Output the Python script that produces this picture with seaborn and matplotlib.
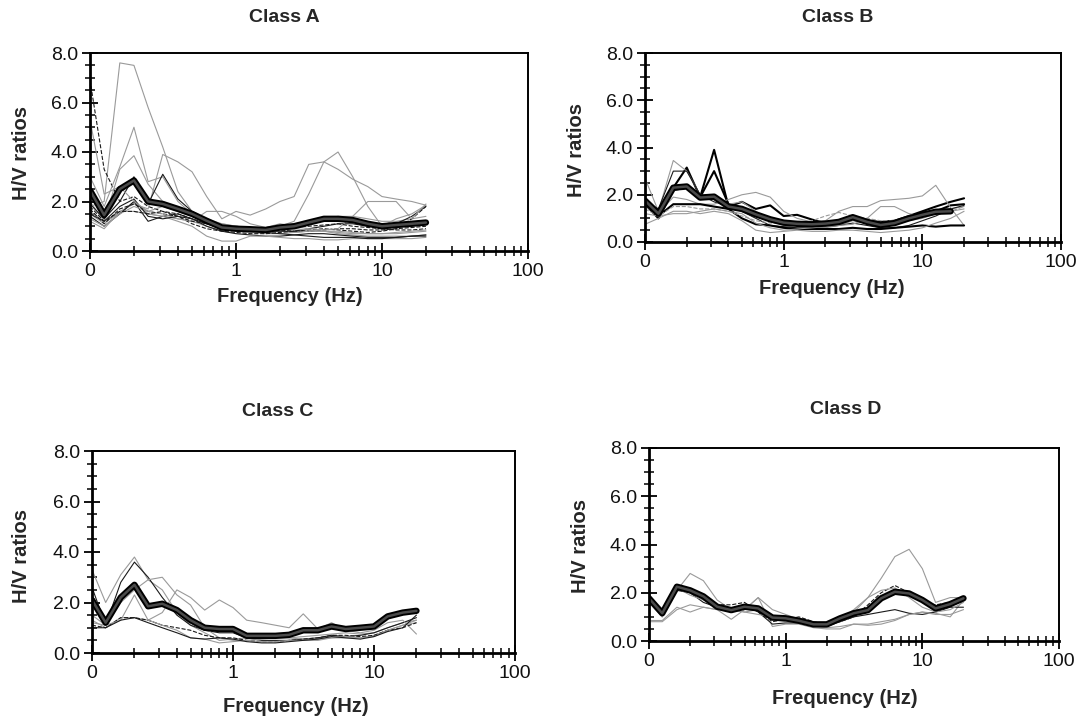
import numpy as np
import matplotlib
matplotlib.use("Agg")
import matplotlib.pyplot as plt
import matplotlib.ticker as mticker
import seaborn as sns

# ------------------------------------------
# data
# ------------------------------------------
freq = [0.1, 0.125, 0.16, 0.2, 0.25, 0.315, 0.4, 0.5, 0.63, 0.8, 1.0, 1.25,
        1.6, 2.0, 2.5, 3.15, 4.0, 5.0, 6.3, 8.0, 10.0, 12.5, 16.0, 20.0]

x_ticks = [0.1, 1, 10, 100]
x_tick_labels = ["0", "1", "10", "100"]
y_ticks = [0, 2, 4, 6, 8]

class_names = ["Class A", "Class B", "Class C", "Class D"]

mean_a = [2.45, 1.45, 2.5, 2.85, 2.0, 1.9, 1.7, 1.5, 1.22, 0.95, 0.9, 0.88,
          0.85, 0.95, 1.0, 1.15, 1.3, 1.3, 1.25, 1.1, 1.0, 1.05, 1.1, 1.15]
runs_a = [
    [1.8, 2.0, 7.6, 7.5, 5.8, 4.2, 2.4, 1.6, 1.3, 1.0, 0.9, 0.85, 0.8, 0.8, 0.75, 0.8, 0.8, 0.75, 0.7, 0.7, 0.7, 0.7, 0.75, 0.8],
    [6.9, 3.3, 2.0, 2.2, 1.8, 1.6, 1.5, 1.3, 1.1, 1.0, 1.0, 0.95, 0.9, 0.85, 0.8, 0.8, 0.85, 0.9, 0.9, 0.85, 0.85, 0.9, 0.95, 1.0],
    [3.0, 1.8, 3.4, 5.0, 2.8, 3.0, 2.0, 1.5, 1.3, 1.1, 1.0, 0.9, 0.9, 1.0, 1.1, 1.2, 1.3, 1.4, 1.4, 1.3, 1.2, 1.2, 1.3, 1.4],
    [2.0, 1.2, 3.3, 3.85, 2.7, 2.0, 1.7, 1.4, 1.2, 1.0, 0.8, 0.75, 0.7, 0.7, 0.75, 0.8, 0.8, 0.7, 0.65, 0.6, 0.6, 0.6, 0.6, 0.65],
    [1.5, 1.1, 1.6, 1.9, 1.7, 3.9, 3.6, 3.2, 2.2, 1.3, 1.6, 1.45, 1.7, 2.0, 2.2, 3.5, 3.6, 3.3, 2.9, 2.6, 2.2, 2.1, 2.0, 1.85],
    [1.6, 1.2, 1.5, 2.0, 1.5, 1.4, 1.3, 1.2, 1.0, 0.8, 0.9, 0.85, 0.9, 1.0, 1.2, 2.3, 3.6, 4.0, 3.0, 1.8, 1.0, 1.3, 1.5, 1.85],
    [1.9, 1.3, 2.0, 3.0, 1.9, 3.1, 2.1, 1.6, 1.3, 1.0, 0.9, 0.85, 0.8, 0.8, 0.8, 0.9, 1.0, 1.1, 1.1, 1.0, 0.95, 1.1, 1.4, 1.8],
    [1.4, 1.0, 1.5, 2.0, 1.2, 1.4, 1.5, 1.3, 1.0, 0.8, 0.7, 0.65, 0.6, 0.6, 0.65, 0.7, 0.7, 0.65, 0.6, 0.55, 0.55, 0.55, 0.6, 0.6],
    [1.7, 1.1, 1.7, 1.9, 1.6, 1.5, 1.4, 1.1, 0.9, 0.8, 0.75, 0.7, 0.7, 0.75, 0.8, 0.85, 0.9, 0.85, 0.8, 0.75, 0.8, 0.9, 1.3, 1.8],
    [1.2, 0.9, 1.6, 1.6, 1.5, 1.4, 1.2, 1.0, 0.6, 0.4, 0.4, 0.6, 0.6, 0.55, 0.5, 0.5, 0.45, 0.45, 0.5, 0.5, 0.5, 0.5, 0.5, 0.55],
    [1.3, 1.0, 1.5, 1.8, 1.6, 1.5, 1.3, 1.2, 1.6, 1.6, 1.4, 1.1, 0.95, 1.1, 1.0, 0.9, 0.85, 0.9, 1.4, 2.0, 2.0, 2.0, 1.3, 1.9],
    [1.5, 1.2, 1.8, 2.1, 1.4, 1.3, 1.4, 1.3, 1.1, 0.9, 0.85, 0.8, 0.75, 0.7, 0.65, 0.6, 0.55, 0.55, 0.55, 0.5, 0.5, 0.55, 0.6, 0.65],
    [1.8, 1.2, 1.6, 1.6, 1.5, 1.6, 1.4, 1.2, 1.1, 1.0, 0.9, 0.9, 0.95, 1.0, 1.0, 1.0, 1.05, 1.1, 1.0, 0.95, 0.9, 0.85, 0.85, 0.9],
    [5.3, 2.3, 2.6, 2.0, 1.6, 1.8, 1.6, 1.4, 1.2, 1.1, 1.0, 0.95, 0.9, 0.9, 0.9, 0.85, 0.8, 0.8, 0.75, 0.7, 0.7, 0.75, 0.8, 0.85],
]
styles_a = ["g-", "k--", "g-", "g-", "g-", "g-", "k-", "k-", "k--", "g-", "g-", "k-", "k--", "g-"]

mean_b = [1.75, 1.2, 2.3, 2.35, 1.88, 1.92, 1.5, 1.4, 1.17, 0.96, 0.82, 0.77,
          0.75, 0.78, 0.85, 1.05, 0.85, 0.72, 0.8, 1.0, 1.15, 1.28, 1.3]
runs_b = [
    [1.8, 1.3, 2.3, 3.15, 1.9, 3.9, 1.5, 1.7, 1.4, 1.55, 1.1, 1.15, 0.95, 0.8, 0.85, 1.0, 0.9, 0.85, 0.9, 1.1, 1.3, 1.5, 1.7, 1.85],
    [1.6, 1.0, 2.2, 2.3, 1.9, 3.0, 1.6, 1.4, 1.2, 1.0, 0.8, 0.75, 0.7, 0.7, 0.75, 0.95, 0.8, 0.7, 0.75, 0.95, 1.1, 1.3, 1.55, 1.6],
    [2.7, 1.3, 3.45, 3.0, 2.0, 1.8, 1.6, 1.7, 1.3, 0.9, 0.7, 0.6, 0.55, 0.6, 0.7, 0.9, 0.8, 0.75, 0.8, 0.9, 1.0, 1.2, 1.4, 1.5],
    [1.7, 1.4, 3.0, 3.0, 2.0, 1.7, 1.5, 1.3, 1.0, 0.7, 0.65, 0.6, 0.6, 0.65, 0.7, 0.8, 0.7, 0.6, 0.6, 0.7, 0.9, 1.1, 1.4, 1.55],
    [1.5, 1.2, 1.9, 1.8, 1.6, 1.6, 1.8, 2.0, 2.1, 1.9, 1.3, 1.0, 0.85, 0.9, 1.3, 1.5, 1.5, 1.75, 1.8, 1.85, 1.95, 2.4, 1.45, 0.7],
    [1.6, 1.1, 1.6, 1.6, 1.6, 1.5, 1.4, 1.0, 0.75, 0.7, 0.6, 0.55, 0.55, 0.55, 0.55, 0.6, 0.55, 0.55, 0.6, 0.65, 0.7, 0.65, 0.7, 0.7],
    [0.75, 1.0, 1.3, 1.3, 1.2, 1.3, 1.2, 0.9, 0.5, 0.4, 0.45, 0.5, 0.45, 0.45, 0.5, 0.5, 0.45, 0.4, 0.45, 0.5, 0.6, 0.8, 1.0, 1.3],
    [1.4, 1.1, 1.5, 1.5, 1.4, 1.4, 1.3, 1.1, 0.9, 0.8, 0.8, 0.8, 0.9, 1.1, 1.25, 1.1, 1.0, 0.9, 0.9, 1.0, 1.1, 1.2, 1.3, 1.5],
    [1.2, 1.1, 1.2, 1.2, 1.3, 1.4, 1.3, 1.2, 0.8, 0.6, 0.5, 0.55, 0.6, 0.65, 0.7, 0.75, 1.0, 1.5, 1.5, 1.2, 1.1, 1.2, 1.3, 1.4],
]
styles_b = ["K-", "K-", "g-", "k-", "g-", "K-", "g-", "g--", "g-"]

mean_c = [2.1, 1.2, 2.2, 2.7, 1.85, 1.95, 1.7, 1.3, 1.0, 0.95, 0.95, 0.68,
          0.68, 0.68, 0.72, 0.9, 0.9, 1.05, 0.95, 1.0, 1.05, 1.45, 1.6, 1.67]
runs_c = [
    [3.3, 2.0, 3.1, 3.8, 2.9, 2.5, 1.6, 1.1, 0.8, 0.5, 0.55, 0.6, 0.6, 0.6, 0.6, 0.65, 0.7, 0.75, 0.8, 0.75, 0.8, 1.0, 1.2, 1.3],
    [2.6, 1.1, 2.8, 3.6, 3.0, 2.2, 1.5, 1.1, 0.9, 0.8, 0.8, 0.6, 0.5, 0.5, 0.5, 0.55, 0.6, 0.7, 0.65, 0.7, 0.8, 1.0, 1.2, 1.4],
    [1.5, 1.1, 2.0, 2.5, 2.9, 3.0, 2.3, 1.9, 1.0, 0.6, 0.5, 0.5, 0.55, 0.6, 0.6, 0.55, 0.55, 0.6, 0.6, 0.6, 0.7, 0.9, 1.1, 1.2],
    [1.3, 1.0, 1.4, 1.4, 1.3, 1.6, 2.5, 2.2, 1.7, 2.1, 1.8, 1.3, 1.2, 1.1, 1.0, 1.55, 0.95, 1.2, 0.9, 0.8, 0.9, 1.2, 1.3, 0.75],
    [1.1, 1.0, 1.4, 1.4, 1.3, 1.1, 1.0, 0.9, 0.7, 0.6, 0.6, 0.5, 0.45, 0.45, 0.5, 0.55, 0.6, 0.7, 0.7, 0.65, 0.7, 0.9, 1.0, 1.2],
    [1.2, 1.1, 1.3, 2.3, 1.3, 1.1, 0.9, 0.6, 0.55, 0.4, 0.45, 0.5, 0.45, 0.45, 0.5, 0.5, 0.5, 0.6, 0.65, 0.6, 0.65, 0.9, 1.1, 1.3],
    [1.0, 1.0, 1.3, 1.4, 1.2, 1.0, 0.8, 0.6, 0.55, 0.6, 0.55, 0.45, 0.4, 0.4, 0.45, 0.5, 0.55, 0.65, 0.6, 0.55, 0.65, 0.85, 1.0, 1.5],
]
styles_c = ["g-", "k-", "g-", "g-", "k--", "g-", "k-"]

mean_d = [1.77, 1.15, 2.25, 2.1, 1.85, 1.42, 1.28, 1.42, 1.35, 0.97, 0.94, 0.84,
          0.69, 0.69, 0.94, 1.15, 1.28, 1.77, 2.04, 1.97, 1.7, 1.35, 1.53, 1.77]
runs_d = [
    [1.6, 1.0, 2.1, 2.8, 2.5, 1.7, 1.3, 1.3, 1.8, 1.3, 1.1, 0.9, 0.7, 0.7, 0.85, 1.2, 1.8, 2.6, 3.5, 3.8, 3.0, 1.6, 1.8, 1.8],
    [1.8, 1.3, 2.3, 2.1, 1.8, 1.5, 1.5, 1.6, 1.2, 0.8, 0.9, 1.0, 0.8, 0.7, 0.8, 1.0, 1.5, 2.0, 2.3, 2.0, 1.6, 1.5, 1.6, 1.7],
    [0.85, 0.85, 1.4, 1.2, 1.4, 1.3, 0.9, 1.3, 1.8, 0.6, 0.7, 0.7, 0.55, 0.5, 0.5, 0.7, 0.65, 0.7, 0.85, 1.1, 1.2, 1.15, 1.0, 1.7],
    [1.7, 1.1, 2.1, 2.0, 1.6, 1.4, 1.3, 1.5, 1.2, 0.7, 0.75, 0.75, 0.65, 0.6, 0.8, 1.0, 1.1, 1.2, 1.3, 1.15, 1.1, 1.2, 1.4, 1.4],
    [1.6, 1.0, 2.2, 1.9, 1.7, 1.4, 1.3, 1.2, 1.1, 1.0, 0.9, 0.8, 0.65, 0.7, 0.9, 1.3, 1.8, 2.1, 2.2, 1.8, 1.4, 1.2, 1.3, 1.6],
    [0.8, 0.8, 1.3, 1.5, 1.4, 1.3, 1.3, 1.2, 1.3, 0.9, 0.8, 0.8, 0.6, 0.55, 0.6, 0.7, 0.7, 0.8, 0.9, 1.1, 1.2, 1.1, 1.1, 1.3],
]
styles_d = ["g-", "k--", "g-", "k-", "g-", "g-"]

means = [mean_a, mean_b, mean_c, mean_d]
runs = [runs_a, runs_b, runs_c, runs_d]
styles = [styles_a, styles_b, styles_c, styles_d]

# ------------------------------------------
# layout (pixels of the 1082x720 scan)
# ------------------------------------------
W, H = 1082, 720
boxes = [(90, 528, 53, 251), (645, 1061, 53, 242),
         (92, 515, 451, 653), (649, 1059, 448, 641)]
title_pos = [(284, 17), (838, 17), (278, 412), (846, 410)]
xlabel_pos = [(290, 297), (832, 288), (296, 706), (845, 699)]
ylabel_pos = [(22, 153), (577, 150), (22, 556), (581, 546)]

sns.set_theme(style="white")
plt.rcParams["font.family"] = ["Liberation Sans", "DejaVu Sans"]

line_colors = {"k": "#1a1a1a", "K": "#000000", "g": "#9a9a9a"}
line_widths = {"k": 0.8, "K": 1.5, "g": 0.8}

fig = plt.figure(figsize=(W / 100, H / 100), dpi=100)
fig.patch.set_facecolor("white")

for i in range(4):
    l, r, t, b = boxes[i]
    ax = fig.add_axes([l / W, 1 - b / H, (r - l) / W, (b - t) / H])

    for vals, st in zip(runs[i], styles[i]):
        sns.lineplot(x=freq[:len(vals)], y=vals, ax=ax, estimator=None,
                     color=line_colors[st[0]], lw=line_widths[st[0]],
                     linestyle=st[1:])

    # class average: thick dark line with a grey core
    m = means[i]
    sns.lineplot(x=freq[:len(m)], y=m, ax=ax, estimator=None, color="black", lw=4.6)
    sns.lineplot(x=freq[:len(m)], y=m, ax=ax, estimator=None, color="#4a4a4a", lw=1.8)

    ax.set_xscale("log")
    ax.set_xlim(0.1, 100)
    ax.set_ylim(0, 8)
    ax.set_xticks(x_ticks)
    ax.set_xticklabels(x_tick_labels)
    ax.xaxis.set_minor_locator(mticker.LogLocator(base=10, subs=np.arange(2, 10)))
    ax.xaxis.set_minor_formatter(mticker.NullFormatter())
    ax.set_yticks(y_ticks)
    ax.yaxis.set_major_formatter(mticker.FormatStrFormatter("%.1f"))
    ax.yaxis.set_minor_locator(mticker.MultipleLocator(0.5))
    ax.tick_params(which="major", direction="inout", length=11, width=1.3,
                   labelsize=14, color="black", labelcolor="#111111", pad=3,
                   bottom=True, left=True)
    ax.tick_params(which="minor", direction="inout", length=7, width=1.1,
                   color="black", bottom=True, left=True)
    for side in ["left", "bottom"]:
        ax.spines[side].set_linewidth(2.0)
    for side in ["top", "right"]:
        ax.spines[side].set_linewidth(1.4)
    for sp in ax.spines.values():
        sp.set_color("black")
    ax.set_xlabel("")
    ax.set_ylabel("")

    fig.text(title_pos[i][0] / W, 1 - title_pos[i][1] / H, class_names[i],
             ha="center", va="center", fontsize=14, fontweight="bold")
    fig.text(xlabel_pos[i][0] / W, 1 - xlabel_pos[i][1] / H, "Frequency (Hz)",
             ha="center", va="center", fontsize=14.5, fontweight="bold")
    fig.text(ylabel_pos[i][0] / W, 1 - ylabel_pos[i][1] / H, "H/V ratios",
             ha="center", va="center", rotation=90, fontsize=14.5, fontweight="bold")

fig.savefig("out.png", dpi=100)
